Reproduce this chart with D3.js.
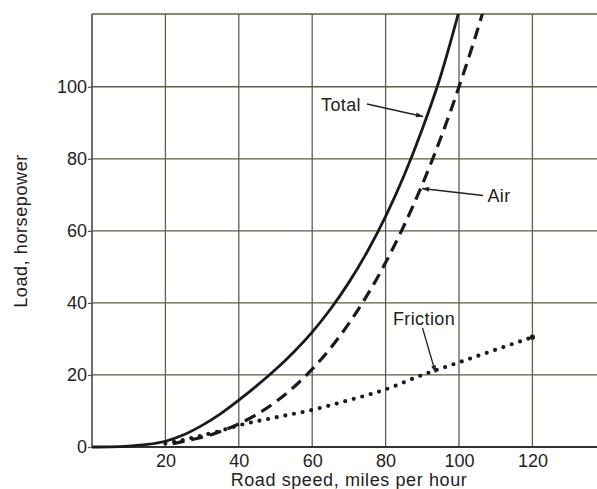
<!DOCTYPE html>
<html>
<head>
<meta charset="utf-8">
<script src="https://cdn.jsdelivr.net/npm/d3@7"></script>
<style>
  html, body { margin: 0; padding: 0; background: #fff; }
  svg { display: block; }
  text { font-family: "Liberation Sans", Arial, Helvetica, sans-serif; fill: #222; }
</style>
</head>
<body>
<svg id="chart" width="597" height="489"></svg>
<script>
// ---- data ----
const xTicks = [20, 40, 60, 80, 100, 120];
const yTicks = [0, 20, 40, 60, 80, 100];
const xTitle = "Road speed, miles per hour";
const yTitle = "Load, horsepower";

const totalSpeed = [0, 5, 10, 15, 20, 25, 30, 35, 40, 45, 50, 55, 60, 65, 70, 75, 80, 85, 90, 95, 100];
const totalLoad  = [0, 0.05, 0.25, 0.7, 1.6, 3.4, 6.0, 9.2, 13.0, 17.1, 21.5, 26.4, 31.9, 38.3, 45.7, 54.2, 64.0, 75.3, 88.3, 103, 121];

const airSpeed = [22, 26, 30, 35, 40, 50, 60, 70, 80, 90, 95, 100, 106, 108];
const airLoad  = [0.9, 1.8, 2.7, 4.3, 6.4, 12.5, 21.6, 34.3, 51.2, 72.9, 85.7, 100, 119, 126];

const frictionSpeed = [20, 25, 30, 35, 40, 50, 60, 70, 80, 90, 100, 110, 120];
const frictionLoad  = [1, 2, 3.2, 4.5, 6, 8.2, 10.3, 13, 16, 20, 23.5, 27, 30.5];

const labels = [
  { text: "Total",    x: 341, y: 111, ax1: 367, ay1: 104, ax2: 423, ay2: 116.5 },
  { text: "Air",      x: 499, y: 202, ax1: 483, ay1: 195.5, ax2: 422, ay2: 188.5 },
  { text: "Friction", x: 424, y: 325, ax1: 422.5, ay1: 328, ax2: 435.5, ay2: 372.5 }
];

// ---- layout ----
const mLeft = 92, mTop = 14, mBottom = 447, mRight = 597;
const svg = d3.select("#chart");

const x = d3.scaleLinear().domain([0, 137.6]).range([mLeft, mRight]);
const y = d3.scaleLinear().domain([0, 120.2]).range([mBottom, mTop]);

const gridColor = "#5d5f48";

// defs: clip & arrow
const defs = svg.append("defs");
defs.append("clipPath").attr("id", "plotclip")
  .append("rect").attr("x", mLeft - 2).attr("y", mTop).attr("width", mRight - mLeft + 2).attr("height", mBottom - mTop + 4);
defs.append("marker").attr("id", "arrow")
  .attr("viewBox", "0 0 10 10").attr("refX", 10).attr("refY", 5)
  .attr("markerWidth", 9).attr("markerHeight", 7).attr("markerUnits", "userSpaceOnUse")
  .attr("orient", "auto")
  .append("path").attr("d", "M0,1.5 L10,5 L0,8.5 Z").attr("fill", "#222");

// grid
const grid = svg.append("g");
grid.selectAll("line.v").data(xTicks).join("line").attr("class", "v")
  .attr("x1", d => x(d)).attr("x2", d => x(d))
  .attr("y1", mTop).attr("y2", mBottom)
  .attr("stroke", gridColor).attr("stroke-width", 1.3);
grid.selectAll("line.h").data(yTicks.filter(d => d > 0)).join("line").attr("class", "h")
  .attr("x1", mLeft).attr("x2", mRight)
  .attr("y1", d => y(d)).attr("y2", d => y(d))
  .attr("stroke", gridColor).attr("stroke-width", 1.3);
grid.append("line").attr("x1", mLeft).attr("x2", mRight).attr("y1", mTop).attr("y2", mTop)
  .attr("stroke", gridColor).attr("stroke-width", 1.5);

// axes
const yAxis = d3.axisLeft(y).tickValues(yTicks).tickSize(4).tickPadding(2);
const gy = svg.append("g").attr("transform", `translate(${mLeft},0)`).call(yAxis);
gy.select(".domain").remove();
gy.selectAll(".tick line").attr("stroke", gridColor).attr("stroke-width", 1.3);
gy.selectAll(".tick text").attr("font-size", 18).attr("fill", "#222")
  .attr("font-family", "Liberation Sans, Arial, sans-serif").attr("x", -5);

const xAxis = d3.axisBottom(x).tickValues(xTicks).tickSize(0).tickPadding(7);
const gx = svg.append("g").attr("transform", `translate(0,${mBottom})`).call(xAxis);
gx.select(".domain").remove();
gx.selectAll(".tick text").attr("font-size", 18).attr("fill", "#222")
  .attr("font-family", "Liberation Sans, Arial, sans-serif");

// axis lines
svg.append("line").attr("x1", mLeft).attr("x2", mLeft).attr("y1", mTop).attr("y2", mBottom)
  .attr("stroke", "#4a4a3c").attr("stroke-width", 1.6);
svg.append("line").attr("x1", mLeft).attr("x2", mRight).attr("y1", mBottom).attr("y2", mBottom)
  .attr("stroke", "#333").attr("stroke-width", 1.8);

// titles
svg.append("text").attr("x", 349).attr("y", 486).attr("text-anchor", "middle")
  .attr("font-size", 18).attr("letter-spacing", 0.6).text(xTitle);
svg.append("text").attr("transform", "translate(27,231) rotate(-90)").attr("text-anchor", "middle")
  .attr("font-size", 18).attr("letter-spacing", 0.6).text(yTitle);

// curves
const plot = svg.append("g").attr("clip-path", "url(#plotclip)");
const line = d3.line().x(d => x(d[0])).y(d => y(d[1])).curve(d3.curveMonotoneX);

plot.append("path").datum(d3.zip(totalSpeed, totalLoad)).attr("d", line)
  .attr("fill", "none").attr("stroke", "#1a1a1a").attr("stroke-width", 2.8);

plot.append("path").datum(d3.zip(airSpeed, airLoad)).attr("d", line)
  .attr("fill", "none").attr("stroke", "#1a1a1a").attr("stroke-width", 3.2)
  .attr("stroke-dasharray", "12 7");

plot.append("path").datum(d3.zip(frictionSpeed, frictionLoad)).attr("d", line)
  .attr("fill", "none").attr("stroke", "#1a1a1a").attr("stroke-width", 4.2)
  .attr("stroke-linecap", "round").attr("stroke-dasharray", "0 8.8");

// end dot on friction
const lastF = frictionSpeed.length - 1;
plot.append("circle").attr("cx", x(frictionSpeed[lastF])).attr("cy", y(frictionLoad[lastF]))
  .attr("r", 2.6).attr("fill", "#1a1a1a");

// annotations
const ann = svg.append("g");
ann.selectAll("text").data(labels).join("text")
  .attr("x", d => d.x).attr("y", d => d.y).attr("text-anchor", "middle")
  .attr("font-size", 18).attr("letter-spacing", 0.4).text(d => d.text);
ann.selectAll("line").data(labels).join("line")
  .attr("x1", d => d.ax1).attr("y1", d => d.ay1).attr("x2", d => d.ax2).attr("y2", d => d.ay2)
  .attr("stroke", "#222").attr("stroke-width", 1.3).attr("marker-end", "url(#arrow)");
</script>
</body>
</html>
